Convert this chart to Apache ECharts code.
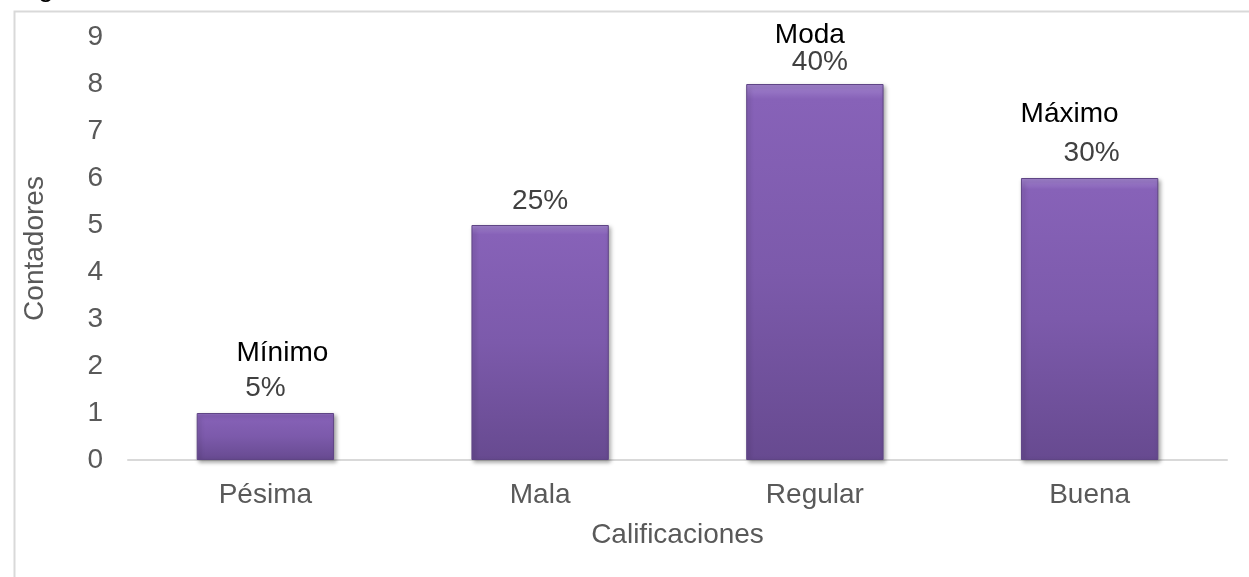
<!DOCTYPE html>
<html>
<head>
<meta charset="utf-8">
<script src="https://cdn.jsdelivr.net/npm/echarts@6/dist/echarts.min.js"></script>
<style>html,body{margin:0;padding:0;background:#fff;}#c{width:1249px;height:577px;}</style>
</head>
<body>
<div id="c"></div>
<script>
var categories = ['Pésima', 'Mala', 'Regular', 'Buena'];
var counts = [1, 5, 8, 6];
var percentLabels = ['5%', '25%', '40%', '30%'];
var statLabels = ['Mínimo', '', 'Moda', 'Máximo'];
var yTicks = [0, 1, 2, 3, 4, 5, 6, 7, 8, 9];

// per-label layout tweaks (shift of name and percent text relative to bar centre, line heights, distances)
var nameShift = [17, 0, -5, -20];
var pctShift = [0, 0, 5, 2];
var nameLineH = [42, 0, 26, 50];
var labelDist = [11, 10, 8, 11];

var FONT = 'Liberation Sans';
var FS = 28;

var chart = echarts.init(document.getElementById('c'), null, {renderer: 'canvas'});

function pad(shift) {
  return shift >= 0 ? [0, 0, 0, 2 * shift] : [0, -2 * shift, 0, 0];
}

var barData = counts.map(function (v, i) {
  var hasName = statLabels[i] !== '';
  var rich = {
    n: {color: '#000000', fontSize: FS, fontFamily: FONT, lineHeight: nameLineH[i] || 28, padding: pad(nameShift[i])},
    p: {color: '#404040', fontSize: FS, fontFamily: FONT, lineHeight: 28, padding: pad(pctShift[i])}
  };
  return {
    value: v,
    label: {
      show: true,
      position: 'top',
      distance: labelDist[i],
      formatter: hasName ? '{n|' + statLabels[i] + '}\n{p|' + percentLabels[i] + '}' : '{p|' + percentLabels[i] + '}',
      rich: rich
    }
  };
});

var option = {
  backgroundColor: '#ffffff',
  animation: false,
  graphic: [
    {type: 'rect', left: 12, top: 9, shape: {width: 1300, height: 640}, style: {fill: 'none', stroke: '#d9d9d9', lineWidth: 2}},
    {type: 'text', left: 38, top: -26, style: {text: 'g', fontSize: 28, fontFamily: FONT, fill: '#000'}}
  ],
  grid: {left: 128, right: 22, top: 37, bottom: 117, containLabel: false},
  xAxis: {
    type: 'category',
    data: categories,
    name: 'Calificaciones',
    nameLocation: 'middle',
    nameGap: 61,
    nameTextStyle: {color: '#595959', fontSize: FS, fontFamily: FONT},
    axisLine: {show: true, lineStyle: {color: '#d9d9d9', width: 2}},
    axisTick: {show: false},
    axisLabel: {color: '#595959', fontSize: FS, fontFamily: FONT, margin: 21},
    splitLine: {show: false}
  },
  yAxis: {
    type: 'value',
    min: yTicks[0],
    max: yTicks[yTicks.length - 1],
    interval: 1,
    name: 'Contadores',
    nameLocation: 'middle',
    nameGap: 79,
    nameRotate: 90,
    nameTextStyle: {color: '#595959', fontSize: FS, fontFamily: FONT},
    axisLine: {show: false},
    axisTick: {show: false},
    splitLine: {show: false},
    axisLabel: {color: '#595959', fontSize: FS, fontFamily: FONT, margin: 25}
  },
  series: [{
    type: 'bar',
    data: barData,
    barWidth: '50%',
    itemStyle: {
      color: new echarts.graphic.LinearGradient(0, 0, 0, 1, [
        {offset: 0, color: '#a385cf'},
        {offset: 0.04, color: '#8762b8'},
        {offset: 0.5, color: '#7c5aab'},
        {offset: 1, color: '#674a90'}
      ]),
      borderColor: '#5f4585',
      borderWidth: 1,
      shadowColor: 'rgba(0,0,0,0.35)',
      shadowBlur: 4,
      shadowOffsetX: 2,
      shadowOffsetY: 2
    }
  }]
};
chart.setOption(option);
</script>
</body>
</html>
